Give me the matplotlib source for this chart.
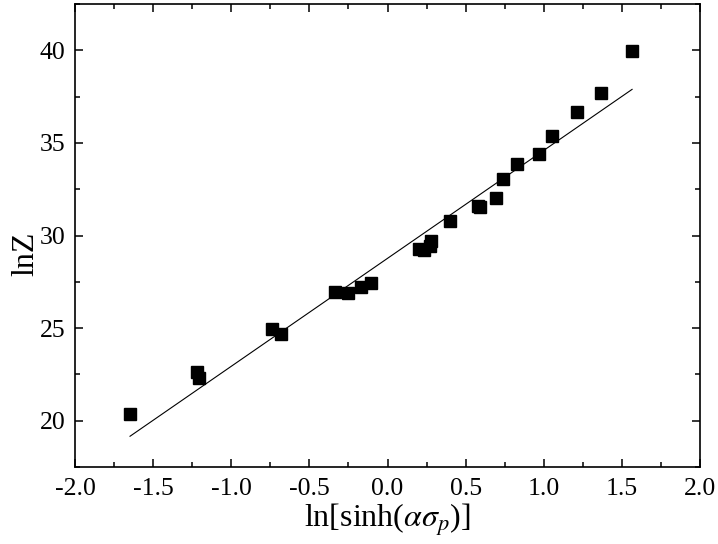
import numpy as np
import matplotlib
matplotlib.use("Agg")
import matplotlib.pyplot as plt
from matplotlib.ticker import MultipleLocator, FormatStrFormatter

plt.rcParams['font.family'] = ['Liberation Serif', 'DejaVu Serif']
plt.rcParams['mathtext.fontset'] = 'stix'

# ln[sinh(alpha*sigma_p)] and lnZ measurements
ln_sinh = [-1.648, -1.219, -1.206, -0.739, -0.682, -0.336, -0.253, -0.170,
           -0.106, 0.202, 0.234, 0.272, 0.278, 0.400, 0.579, 0.590,
           0.694, 0.739, 0.829, 0.970, 1.053, 1.213, 1.366, 1.565]
ln_z = [20.38, 22.65, 22.32, 24.97, 24.70, 26.97, 26.92, 27.24,
        27.46, 29.30, 29.24, 29.46, 29.73, 30.76, 31.60, 31.55,
        32.05, 33.03, 33.89, 34.38, 35.35, 36.65, 37.68, 39.95]

# linear fit line
fit_slope = 5.83
fit_intercept = 28.77

x = np.array(ln_sinh)
y = np.array(ln_z)

fig = plt.figure(figsize=(7.18, 5.44), dpi=100)
ax = fig.add_axes([0.1045, 0.1415, 0.8705, 0.851])

xf = np.array([x.min(), x.max()])
ax.plot(xf, fit_slope * xf + fit_intercept, color='black', lw=0.8)
ax.plot(x, y, linestyle='none', marker='s', markersize=8.5, color='black')

ax.set_xlim(-2.0, 2.0)
ax.set_ylim(17.5, 42.5)
ax.xaxis.set_major_locator(MultipleLocator(0.5))
ax.xaxis.set_minor_locator(MultipleLocator(0.25))
ax.yaxis.set_major_locator(MultipleLocator(5))
ax.yaxis.set_minor_locator(MultipleLocator(2.5))
ax.xaxis.set_major_formatter(FormatStrFormatter('%.1f'))

ax.tick_params(which='both', direction='in', top=True, right=True,
               labeltop=False, labelright=False, width=1.1, labelsize=18.5)
ax.tick_params(which='major', length=6)
ax.tick_params(which='minor', length=3.5)
ax.tick_params(axis='x', pad=8)
ax.tick_params(axis='y', pad=7)
for s in ax.spines.values():
    s.set_linewidth(1.2)

ax.set_xlabel(r'ln[sinh($\alpha\sigma_{p}$)]', fontsize=23, labelpad=1)
ax.set_ylabel('lnZ', fontsize=23)
ax.yaxis.set_label_coords(-0.056, 0.46)

fig.savefig('out.png', dpi=100)
